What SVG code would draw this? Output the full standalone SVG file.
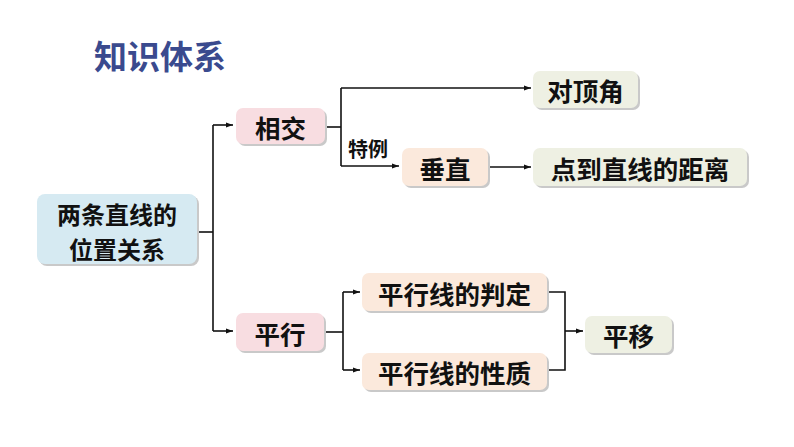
<svg xmlns="http://www.w3.org/2000/svg" width="794" height="447" viewBox="0 0 794 447">
<defs>
<style>
.t{font-family:"Noto Sans CJK SC","Noto Sans",sans-serif;font-size:25.500px;font-weight:bold;fill:#111;text-anchor:middle;dominant-baseline:central}
.rt{font-size:24px}
.sh{fill:#c9c9c9}
.pink{fill:#f8dde1}
.peach{fill:#fbe9dc}
.green{fill:#eef0e3}
.blue{fill:#d6eaf2}
.ln{fill:none;stroke:#111;stroke-width:1.6}
</style>
<marker id="ar" markerWidth="8" markerHeight="8" refX="7" refY="4" orient="auto" markerUnits="userSpaceOnUse">
<path d="M0,1.5 L7,4 L0,6.5 Z" fill="#111"/>
</marker>
</defs>
<rect width="794" height="447" fill="#fff"/>
<text x="94" y="55" style="font-family:'Noto Sans CJK SC',sans-serif;font-size:33px;font-weight:bold;fill:#3a4a8e;dominant-baseline:central">知识体系</text>
<g id="connectors">
<path class="ln" d="M197,232 H213"/>
<path class="ln" d="M213,125 V331"/>
<path class="ln" d="M213,125 H233" marker-end="url(#ar)"/>
<path class="ln" d="M213,331 H233" marker-end="url(#ar)"/>
<path class="ln" d="M325,127 H341"/>
<path class="ln" d="M341,88 V166"/>
<path class="ln" d="M341,88 H531" marker-end="url(#ar)"/>
<path class="ln" d="M341,166 H399" marker-end="url(#ar)"/>
<path class="ln" d="M490,167 H531" marker-end="url(#ar)"/>
<path class="ln" d="M324,332 H343"/>
<path class="ln" d="M343,292 V370"/>
<path class="ln" d="M343,292 H360" marker-end="url(#ar)"/>
<path class="ln" d="M343,370 H360" marker-end="url(#ar)"/>
<path class="ln" d="M548,292 H565 V370 H548"/>
<path class="ln" d="M565,331 H583" marker-end="url(#ar)"/>
<text x="348" y="148" style="font-family:'Noto Sans CJK SC',sans-serif;font-size:20px;font-weight:bold;fill:#111;dominant-baseline:central">特例</text>
</g>
<g id="root">
<rect class="sh" x="39" y="196" width="160" height="70" rx="8"/>
<rect class="blue" x="37" y="194" width="160" height="70" rx="8"/>
<text class="t rt" x="117" y="213">两条直线的</text>
<text class="t rt" x="117" y="248">位置关系</text>
</g>
<g id="xiangjiao">
<rect class="sh" x="238" y="110" width="89" height="36" rx="7"/>
<rect class="pink" x="236" y="108" width="89" height="36" rx="7"/>
<text class="t" x="280.500" y="126">相交</text>
</g>
<g id="duidingjiao">
<rect class="sh" x="535" y="73" width="105" height="37" rx="7"/>
<rect class="green" x="533" y="71" width="105" height="37" rx="7"/>
<text class="t" x="585.500" y="89.500">对顶角</text>
</g>
<g id="chuizhi">
<rect class="sh" x="404" y="150" width="86" height="38" rx="7"/>
<rect class="peach" x="402" y="148" width="86" height="38" rx="7"/>
<text class="t" x="445" y="167">垂直</text>
</g>
<g id="juli">
<rect class="sh" x="535" y="150" width="214" height="38" rx="7"/>
<rect class="green" x="533" y="148" width="214" height="38" rx="7"/>
<text class="t" x="640" y="167">点到直线的距离</text>
</g>
<g id="pingxing">
<rect class="sh" x="238" y="315" width="88" height="38" rx="7"/>
<rect class="pink" x="236" y="313" width="88" height="38" rx="7"/>
<text class="t" x="280" y="332">平行</text>
</g>
<g id="panding">
<rect class="sh" x="364" y="275" width="185" height="38" rx="7"/>
<rect class="peach" x="362" y="273" width="185" height="38" rx="7"/>
<text class="t" x="454.500" y="292">平行线的判定</text>
</g>
<g id="xingzhi">
<rect class="sh" x="364" y="355" width="185" height="37" rx="7"/>
<rect class="peach" x="362" y="353" width="185" height="37" rx="7"/>
<text class="t" x="454.500" y="371.500">平行线的性质</text>
</g>
<g id="pingyi">
<rect class="sh" x="587" y="318" width="87" height="37" rx="7"/>
<rect class="green" x="585" y="316" width="87" height="37" rx="7"/>
<text class="t" x="628.500" y="334.500">平移</text>
</g>
</svg>
